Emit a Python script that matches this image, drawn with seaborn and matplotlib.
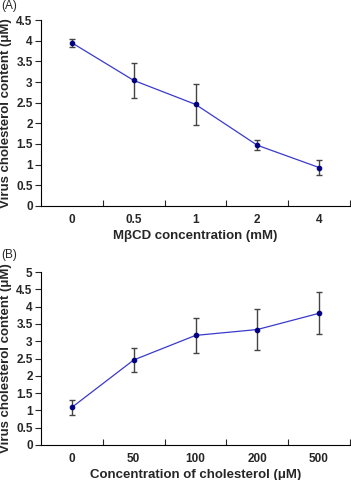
import numpy as np
import matplotlib
matplotlib.use('Agg')
import matplotlib.pyplot as plt
import seaborn as sns

# Panel A data
mbcd_labels = ['0', '0.5', '1', '2', '4']
mbcd_content = [3.95, 3.04, 2.46, 1.47, 0.93]
mbcd_err = [0.10, 0.42, 0.49, 0.12, 0.19]

# Panel B data
chol_labels = ['0', '50', '100', '200', '500']
chol_content = [1.09, 2.46, 3.17, 3.34, 3.81]
chol_err = [0.21, 0.36, 0.51, 0.58, 0.61]

sns.set_style('ticks')
plt.rcParams['font.family'] = ['Liberation Sans', 'DejaVu Sans']

fig = plt.figure(figsize=(3.51, 4.8), dpi=100)
axA = fig.add_axes([0.117, 0.571, 0.88, 0.387])
axB = fig.add_axes([0.117, 0.073, 0.88, 0.360])

line_col = '#3a3acc'
mark_col = '#000080'


def panel(ax, labels, vals, errs, ymax, xlabel):
    x = np.arange(len(labels))
    ax.errorbar(x, vals, yerr=errs, fmt='none', ecolor='#444444',
                elinewidth=1.0, capsize=2.5, capthick=1.0, zorder=1)
    sns.lineplot(x=x, y=vals, ax=ax, color=line_col, lw=0.9,
                 marker='o', markersize=3.3, markerfacecolor=mark_col,
                 markeredgecolor=mark_col, zorder=2)
    ax.set_xlim(-0.5, len(labels) - 0.5)
    ax.set_ylim(0, ymax)
    yt = np.arange(0, ymax + 0.01, 0.5)
    ax.set_yticks(yt)
    ax.set_yticklabels([f'{v:g}' for v in yt], fontsize=8.5, fontweight='bold')
    ax.set_xticks(x)
    ax.set_xticklabels(labels, fontsize=8.5, fontweight='bold')
    ax.set_xticks(np.arange(0.5, len(labels), 1.0), minor=True)
    ax.tick_params(axis='x', which='major', length=0, pad=6)
    ax.tick_params(axis='x', which='minor', length=4, width=0.8, direction='in')
    ax.tick_params(axis='y', length=4, width=0.8, direction='out', pad=2)
    ax.set_xlabel(xlabel, fontsize=9.5, fontweight='bold', labelpad=3)
    ax.set_ylabel('Virus cholesterol content (\u03bcM)', fontsize=9.5,
                  fontweight='bold', labelpad=3)
    sns.despine(ax=ax)
    for s in ['left', 'bottom']:
        ax.spines[s].set_linewidth(0.8)
        ax.spines[s].set_color('black')


panel(axA, mbcd_labels, mbcd_content, mbcd_err, 4.5,
      'M\u03b2CD concentration (mM)')
panel(axB, chol_labels, chol_content, chol_err, 5.0,
      'Concentration of cholesterol (\u03bcM)')

fig.text(0.003, 0.999, '(A)', fontsize=8.5, ha='left', va='top')
fig.text(0.003, 1 - 249 / 480, '(B)', fontsize=8.5, ha='left', va='top')

fig.savefig('out.png', dpi=100)
